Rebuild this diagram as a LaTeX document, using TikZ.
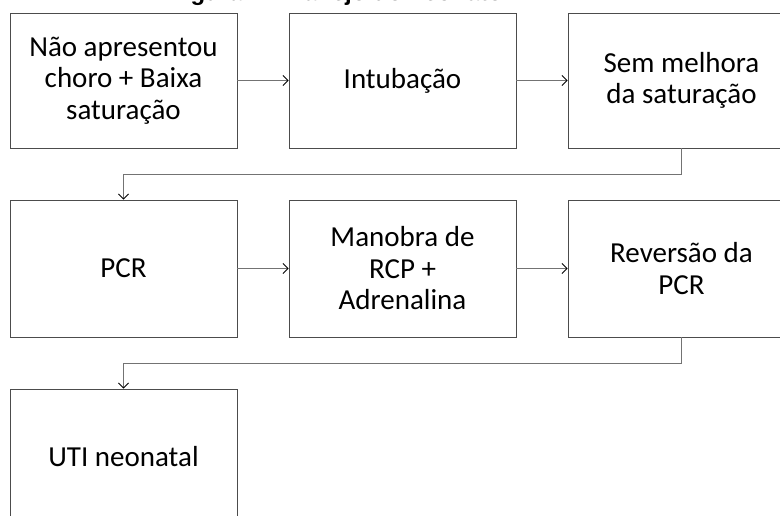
\documentclass[tikz,border=0pt]{standalone}
\usepackage{fontspec}
\setmainfont{Carlito}
\newfontfamily\titlefont{Liberation Sans}
\usetikzlibrary{arrows.meta}
\begin{document}
\begin{tikzpicture}[x=1pt,y=-1pt,
  box/.style={draw=black!70,line width=0.9pt,minimum width=227pt,minimum height=135pt,inner sep=0pt,align=center,font=\fontsize{29}{31.5}\selectfont},
  conn/.style={draw=black!55,line width=0.9pt,-{Straight Barb[length=5pt,width=10pt,line width=0.9pt,color=black]}}]
\useasboundingbox (0,0) rectangle (780,516);
\clip (0,0) rectangle (780,516);
\fill[white] (0,0) rectangle (780,516);
\node[anchor=base west,font=\titlefont\bfseries\fontsize{24}{28}\selectfont,inner sep=0pt] (title) at (169,1) {Figura 1 - Manejo do neonato};
\node[box] (b1) at (123.5,80.5) {Não apresentou\\choro + Baixa\\saturação};
\node[box] (b2) at (402.5,80.5) {Intubação};
\node[box] (b3) at (681.5,80.5) {Sem melhora\\da saturação};
\node[box,minimum height=137pt] (b4) at (123.5,268.5) {PCR};
\node[box,minimum height=137pt] (b5) at (402.5,268.5) {Manobra de\\RCP +\\Adrenalina};
\node[box,minimum height=137pt] (b6) at (681.5,268.5) {Reversão da\\PCR};
\node[box,minimum height=136pt] (b7) at (123.5,457) {UTI neonatal};
\coordinate (k1) at (681.5,174);
\coordinate (k2) at (123.5,174);
\coordinate (k3) at (681.5,363);
\coordinate (k4) at (123.5,363);
\draw[conn] (b1.east) -- (b2.west);
\draw[conn] (b2.east) -- (b3.west);
\draw[conn] (b3.south) -- (k1) -- (k2) -- (b4.north);
\draw[conn] (b4.east) -- (b5.west);
\draw[conn] (b5.east) -- (b6.west);
\draw[conn] (b6.south) -- (k3) -- (k4) -- (b7.north);
\end{tikzpicture}
\end{document}
